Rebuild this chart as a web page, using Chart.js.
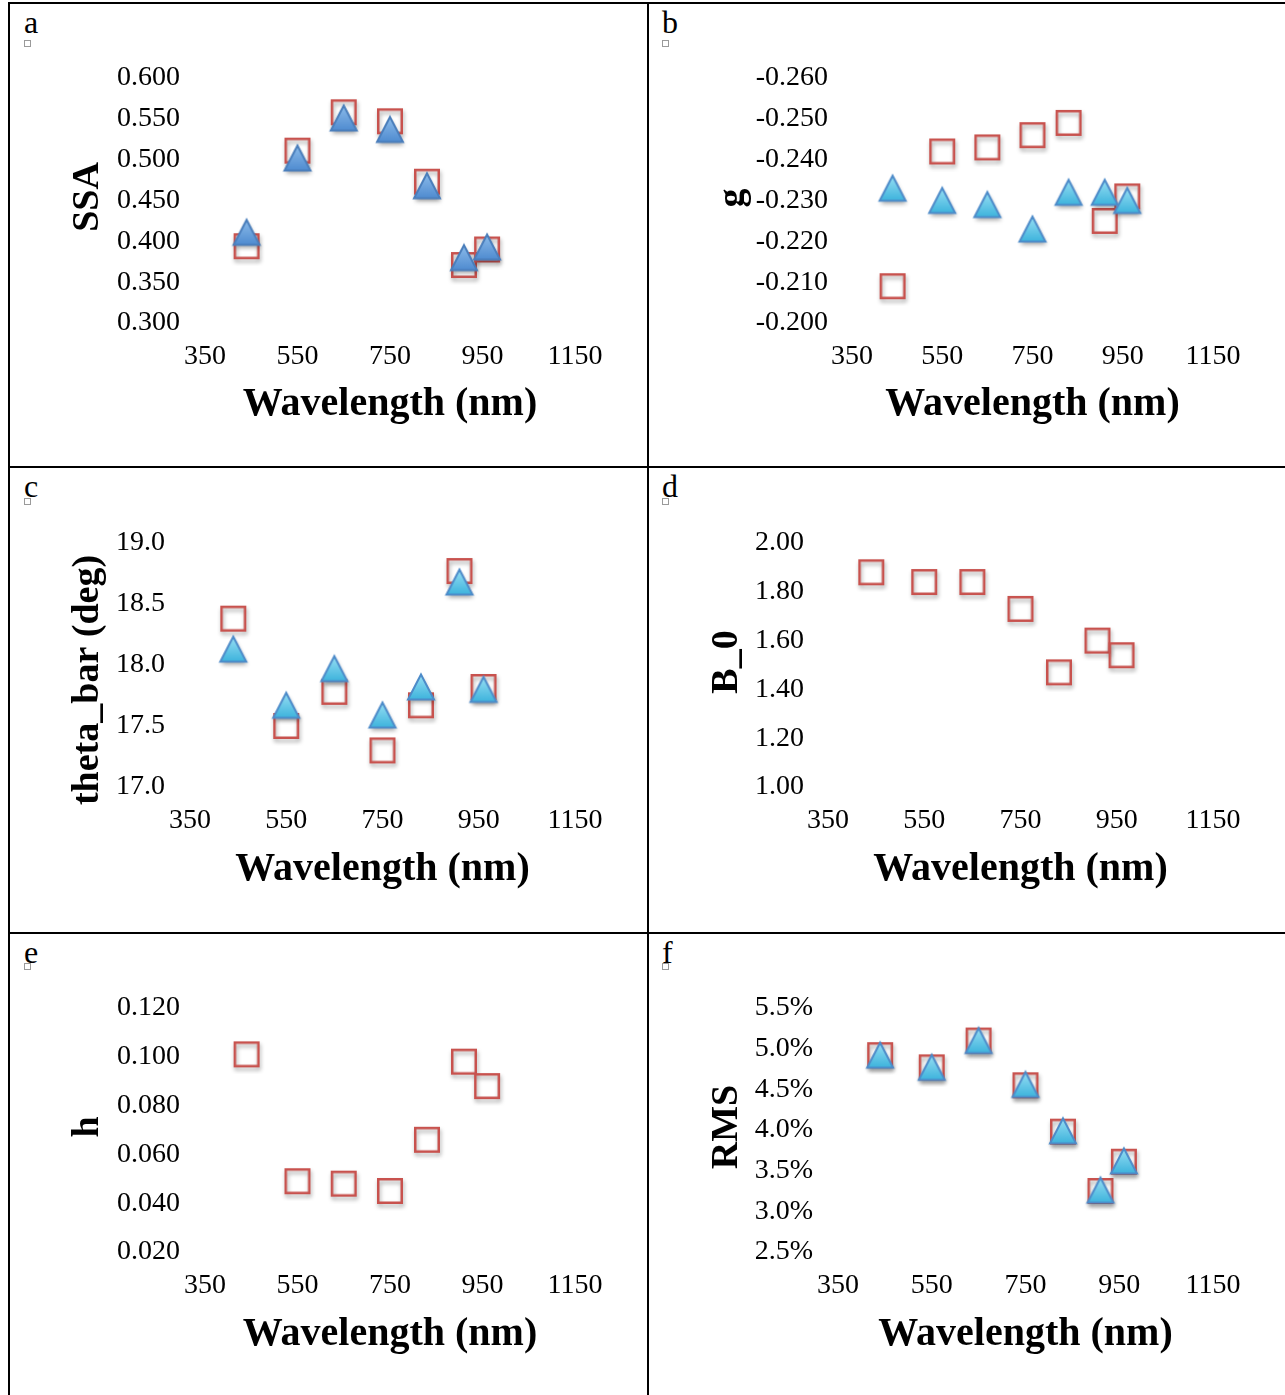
<!DOCTYPE html>
<html>
<head>
<meta charset="utf-8">
<script src="https://cdn.jsdelivr.net/npm/chart.js@4.4.0/dist/chart.umd.min.js"></script>
<style>
  body { margin: 0; background: #fff; }
  #page { position: relative; width: 1285px; height: 1395px; overflow: hidden; font-family: "Liberation Serif", serif; }
  .line { position: absolute; background: #000; }
  canvas { position: absolute; }
  .tag { position: absolute; font-size: 32px; line-height: 32px; color: #000; }
  .anchor { position: absolute; width: 5px; height: 5px; border: 1.5px solid #9a9a9a; background: #fff; }
</style>
</head>
<body>
<div id="page">
  <div class="line" style="left:8px;top:2px;width:1277px;height:2px"></div>
  <div class="line" style="left:8px;top:2px;width:2px;height:1393px"></div>
  <div class="line" style="left:647px;top:2px;width:2px;height:1393px"></div>
  <div class="line" style="left:8px;top:466px;width:1277px;height:2px"></div>
  <div class="line" style="left:8px;top:932px;width:1277px;height:2px"></div>

  <div class="tag" style="left:24px;top:6px">a</div><div class="anchor" style="left:24px;top:40px"></div>
  <div class="tag" style="left:662px;top:6px">b</div><div class="anchor" style="left:662px;top:40px"></div>
  <div class="tag" style="left:24px;top:470px">c</div><div class="anchor" style="left:24px;top:498px"></div>
  <div class="tag" style="left:662px;top:470px">d</div><div class="anchor" style="left:662px;top:498px"></div>
  <div class="tag" style="left:24px;top:936px">e</div><div class="anchor" style="left:24px;top:963px"></div>
  <div class="tag" style="left:662px;top:936px">f</div><div class="anchor" style="left:662px;top:963px"></div>
</div>
<script>
// wavelengths (nm)
const wavelengths = [440, 550, 650, 750, 830, 910, 960];

// a: single scattering albedo
const ssaSquares   = [0.394, 0.511, 0.558, 0.547, 0.473, 0.371, 0.390];
const ssaTriangles = [0.411, 0.502, 0.551, 0.537, 0.468, 0.380, 0.393];
// b: asymmetry g
const gSquares   = [-0.209, -0.242, -0.243, -0.246, -0.249, -0.225, -0.231];
const gTriangles = [-0.233, -0.230, -0.229, -0.223, -0.232, -0.232, -0.230];
// c: roughness
const thetaSquares   = [18.38, 17.50, 17.78, 17.30, 17.67, 18.77, 17.82];
const thetaTriangles = [18.13, 17.67, 17.97, 17.59, 17.82, 18.68, 17.80];
// d, e: opposition effect
const b0Squares = [1.88, 1.84, 1.84, 1.73, 1.47, 1.60, 1.54];
const hSquares  = [0.101, 0.049, 0.048, 0.045, 0.066, 0.098, 0.088];
// f: fit error (%)
const rmsSquares   = [4.92, 4.77, 5.10, 4.55, 3.98, 3.25, 3.61];
const rmsTriangles = [4.92, 4.77, 5.10, 4.56, 3.99, 3.26, 3.62];

// axis ranges [min, max, step]
const xRange     = [350, 1150, 200];
const ssaRange   = [0.300, 0.600, 0.050];
const gRange     = [-0.260, -0.200, 0.010];
const thetaRange = [17.0, 19.0, 0.5];
const b0Range    = [1.00, 2.00, 0.20];
const hRange     = [0.020, 0.120, 0.020];
const rmsRange   = [2.5, 5.5, 0.5];

const page = document.getElementById('page');
const serif = '"Liberation Serif", "Times New Roman", serif';
const tickFont = { family: serif, size: 28 };
const xTitleFont = { family: serif, size: 40, weight: 'bold' };

function marker(kind, top, bottom, edge) {
  const c = document.createElement('canvas');
  c.width = 40; c.height = 40;
  const g = c.getContext('2d');
  g.shadowColor = 'rgba(0,0,0,0.35)';
  g.shadowBlur = 4;
  g.shadowOffsetX = 1;
  g.shadowOffsetY = 3;
  if (kind === 'square') {
    g.lineWidth = 2.5;
    g.strokeStyle = edge;
    g.strokeRect(8.25, 8.25, 23.5, 23.5);
  } else {
    const gr = g.createLinearGradient(0, 7.5, 0, 32.5);
    gr.addColorStop(0, top);
    gr.addColorStop(1, bottom);
    g.beginPath();
    g.moveTo(20, 7.5); g.lineTo(33, 32.5); g.lineTo(7, 32.5); g.closePath();
    g.fillStyle = gr;
    g.fill();
    g.shadowColor = 'transparent';
    g.lineWidth = 2;
    g.strokeStyle = edge;
    g.stroke();
  }
  return c;
}

const square = marker('square', null, null, '#C8524E');
const triBlue = marker('triangle', '#8CBCEA', '#4F8BD0', '#4A7EBB');
const triCyan = marker('triangle', '#98DFF4', '#3DB3DC', '#4D8BC9');

function pts(ys) {
  return wavelengths.map((x, i) => ({ x: x, y: ys[i] }));
}

function drawPanel(p) {
  const [bx, by, bw, bh] = p.box;
  const [cl, ct, cr, cb] = p.area;
  const xH = 110;
  const cv = document.createElement('canvas');
  cv.width = bw; cv.height = bh;
  cv.style.left = bx + 'px'; cv.style.top = by + 'px';
  page.appendChild(cv);

  const sets = [{ data: pts(p.squares), pointStyle: square, pointRadius: 12, order: 1 }];
  if (p.triangles) sets.push({ data: pts(p.triangles), pointStyle: p.tri, pointRadius: 12, order: 0 });

  const yTitle = {
    id: 'yTitle',
    afterDraw(chart) {
      const ctx = chart.ctx;
      ctx.save();
      ctx.translate(p.yTitleAt[0] - bx, p.yTitleAt[1] - by);
      ctx.rotate(-Math.PI / 2);
      ctx.font = 'bold 38px ' + serif;
      ctx.fillStyle = '#000';
      ctx.textAlign = 'center';
      ctx.textBaseline = 'middle';
      ctx.fillText(p.yTitle, 0, 0);
      ctx.restore();
    }
  };

  new Chart(cv, {
    type: 'scatter',
    data: { datasets: sets },
    options: {
      responsive: false,
      animation: false,
      events: [],
      layout: { padding: { left: 0, top: ct - by, right: bx + bw - cr, bottom: by + bh - cb - xH } },
      plugins: { legend: { display: false }, tooltip: { enabled: false } },
      scales: {
        x: {
          type: 'linear',
          min: xRange[0], max: xRange[1],
          grid: { display: false, drawTicks: false },
          border: { display: false },
          ticks: { stepSize: xRange[2], padding: 17, color: '#000', font: tickFont, maxRotation: 0, autoSkip: false,
                   callback: v => String(v) },
          title: {
            display: true, text: 'Wavelength (nm)', color: '#000', font: xTitleFont,
            padding: { top: 0, bottom: cb + xH - p.xTitleY - xTitleFont.size * 0.6 }
          },
          afterFit: s => { s.height = xH; }
        },
        y: {
          type: 'linear',
          min: p.range[0], max: p.range[1],
          reverse: !!p.reverse,
          grid: { display: false, drawTicks: false },
          border: { display: false },
          ticks: { stepSize: p.range[2], padding: p.tickGap, color: '#000', font: tickFont, autoSkip: false, callback: p.fmt },
          afterFit: s => { s.width = cl - bx; }
        }
      }
    },
    plugins: [yTitle]
  });
}

const panels = [
  { box: [10, 4, 637, 462], area: [205, 78, 575, 323], yTitle: 'SSA', yTitleAt: [88, 197], xTitleY: 405, tickGap: 25,
    range: ssaRange, fmt: v => v.toFixed(3), squares: ssaSquares, triangles: ssaTriangles, tri: triBlue },
  { box: [649, 4, 636, 462], area: [852, 78, 1213, 323], yTitle: 'g', yTitleAt: [733, 198], xTitleY: 405, tickGap: 24,
    range: gRange, reverse: true, fmt: v => v.toFixed(3), squares: gSquares, triangles: gTriangles, tri: triCyan },
  { box: [10, 468, 637, 464], area: [190, 543, 575, 787], yTitle: 'theta_bar (deg)', yTitleAt: [88, 680], xTitleY: 870, tickGap: 25,
    range: thetaRange, fmt: v => v.toFixed(1), squares: thetaSquares, triangles: thetaTriangles, tri: triCyan },
  { box: [649, 468, 636, 464], area: [828, 543, 1213, 787], yTitle: 'B_0', yTitleAt: [727, 662], xTitleY: 870, tickGap: 24,
    range: b0Range, fmt: v => v.toFixed(2), squares: b0Squares },
  { box: [10, 934, 637, 461], area: [205, 1008, 575, 1252], yTitle: 'h', yTitleAt: [88, 1127], xTitleY: 1335, tickGap: 25,
    range: hRange, fmt: v => v.toFixed(3), squares: hSquares },
  { box: [649, 934, 636, 461], area: [838, 1008, 1213, 1252], yTitle: 'RMS', yTitleAt: [727, 1127], xTitleY: 1335, tickGap: 25,
    range: rmsRange, fmt: v => v.toFixed(1) + '%', squares: rmsSquares, triangles: rmsTriangles, tri: triCyan }
];

panels.forEach(drawPanel);
</script>
</body>
</html>
